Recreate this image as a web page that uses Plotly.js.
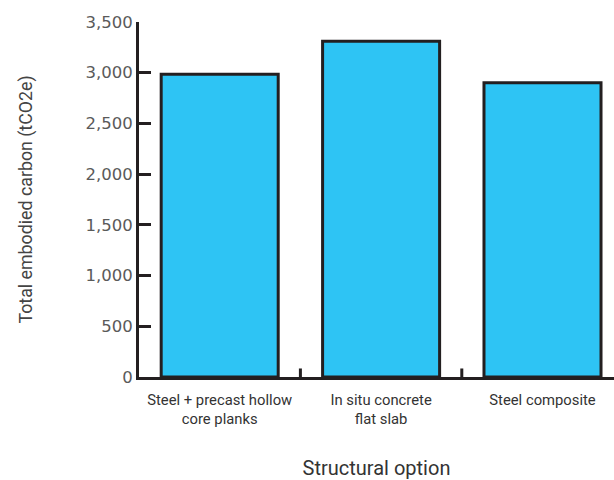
<!DOCTYPE html>
<html><head><meta charset="utf-8">
<script src="https://cdn.plot.ly/plotly-3.0.1.min.js"></script>
<style>html,body{margin:0;padding:0;background:#fff}#chart{width:614px;height:480px}</style>
</head><body><div id="chart"></div>
<script>
const categories = ["Steel + precast hollow<br>core planks", "In situ concrete<br>flat slab", "Steel composite"];
const values = [2985, 3310, 2900];
const yTickVals = [0, 500, 1000, 1500, 2000, 2500, 3000, 3500];
const yTickText = ["0", "500", "1,000", "1,500", "2,000", "2,500", "3,000", "3,500"];

const axisColor = "#231f20";
const fontFam = "Roboto, 'Noto Sans', sans-serif";

Plotly.newPlot("chart", [{
  type: "bar",
  x: [0, 1, 2],
  y: values,
  width: 0.725,
  marker: {color: "#2ec4f4", line: {color: axisColor, width: 3}},
  hoverinfo: "none"
}], {
  width: 614, height: 480,
  margin: {l: 139, r: 0, t: 22, b: 103},
  paper_bgcolor: "#fff", plot_bgcolor: "#fff",
  showlegend: false,
  font: {family: fontFam, color: "#444", size: 15},
  xaxis: {
    range: [-0.5, 2.443],
    tickmode: "array", tickvals: [0, 1, 2], ticktext: categories,
    showgrid: false, zeroline: false,
    showline: true, linecolor: axisColor, linewidth: 3,
    ticks: "",
    ticklabelstandoff: 7,
    tickfont: {size: 14.8, color: "#333", family: fontFam},
    title: {text: "Structural option", font: {size: 20, color: "#333", family: fontFam}, standoff: 34},
    automargin: false
  },
  yaxis: {
    range: [0, 3500],
    tickmode: "array", tickvals: yTickVals, ticktext: yTickText,
    showgrid: false, zeroline: false,
    showline: true, linecolor: axisColor, linewidth: 3,
    ticks: "inside", ticklen: 12, tickwidth: 3, tickcolor: axisColor,
    tickfont: {size: 16.5, color: "#5a5a5a", family: "'DejaVu Sans', sans-serif"},
    title: {text: "Total embodied carbon (tCO2e)", font: {size: 17.8, color: "#444", family: fontFam}, standoff: 49},
    automargin: false
  },
  shapes: [0.5, 1.5].map(b => ({
    type: "line", xref: "x", yref: "paper", x0: b, x1: b, y0: 0, y1: 0.024,
    line: {color: axisColor, width: 3}
  }))
}, {staticPlot: true, displayModeBar: false});
</script></body></html>
